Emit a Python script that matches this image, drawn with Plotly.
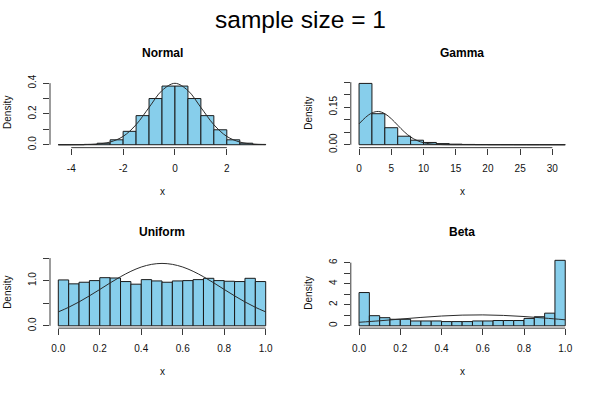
import plotly.graph_objects as go

W, H = 600, 395

# ---------------- data ----------------
normal_breaks = [-4.5, -4.0, -3.5, -3.0, -2.5, -2.0, -1.5, -1.0, -0.5, 0.0,
                 0.5, 1.0, 1.5, 2.0, 2.5, 3.0, 3.5]
normal_density = [0.0002, 0.0004, 0.0022, 0.0097, 0.032, 0.087, 0.189, 0.300,
                  0.381, 0.381, 0.300, 0.189, 0.097, 0.032, 0.010, 0.002]
normal_curve_x = [-4.5, -4.0, -3.5, -3.0, -2.5, -2.0, -1.5, -1.0, -0.5, 0.0,
                  0.5, 1.0, 1.5, 2.0, 2.5, 3.0, 3.5]
normal_curve_y = [0.0000, 0.0001, 0.0009, 0.0044, 0.0175, 0.054, 0.130, 0.242,
                  0.352, 0.399, 0.352, 0.242, 0.130, 0.054, 0.0175, 0.0044, 0.0009]

gamma_breaks = [0, 2, 4, 6, 8, 10, 12, 14, 16, 18, 20, 22, 24, 26, 28, 30, 32]
gamma_density = [0.245, 0.124, 0.068, 0.034, 0.018, 0.009, 0.0045, 0.0022,
                 0.0011, 0.0006, 0.0003, 0.0002, 0.0001, 0.00005, 0.00003, 0.00002]
gamma_curve_x = [0, 1, 2, 3, 4, 5, 6, 7, 8, 9, 10, 11, 12, 13, 14, 16, 20, 24, 28, 32]
gamma_curve_y = [0.0834, 0.109, 0.127, 0.133, 0.124, 0.104, 0.078, 0.052, 0.031,
                 0.0168, 0.0081, 0.0035, 0.0013, 0.0005, 0.0001, 0.0, 0.0, 0.0, 0.0, 0.0]

unif_breaks = [0.00, 0.05, 0.10, 0.15, 0.20, 0.25, 0.30, 0.35, 0.40, 0.45, 0.50,
               0.55, 0.60, 0.65, 0.70, 0.75, 0.80, 0.85, 0.90, 0.95, 1.00]
unif_density = [1.016, 0.929, 0.965, 1.001, 1.066, 1.059, 0.980, 0.922, 1.023, 0.994,
                0.965, 0.994, 1.001, 1.023, 1.052, 1.001, 0.987, 0.980, 1.052, 0.980]
unif_curve_x = [0.00, 0.05, 0.10, 0.15, 0.20, 0.25, 0.30, 0.35, 0.40, 0.45, 0.50,
                0.55, 0.60, 0.65, 0.70, 0.75, 0.80, 0.85, 0.90, 0.95, 1.00]
unif_curve_y = [0.308, 0.410, 0.529, 0.663, 0.805, 0.950, 1.087, 1.207, 1.302, 1.361, 1.382,
                1.361, 1.302, 1.207, 1.087, 0.950, 0.805, 0.663, 0.529, 0.410, 0.308]

beta_breaks = [0.00, 0.05, 0.10, 0.15, 0.20, 0.25, 0.30, 0.35, 0.40, 0.45, 0.50,
               0.55, 0.60, 0.65, 0.70, 0.75, 0.80, 0.85, 0.90, 0.95, 1.00]
beta_density = [3.16, 0.96, 0.77, 0.62, 0.62, 0.46, 0.46, 0.46, 0.40, 0.40,
                0.40, 0.46, 0.46, 0.50, 0.50, 0.50, 0.70, 0.86, 1.20, 6.22]
beta_curve_x = [0.0, 0.1, 0.2, 0.3, 0.4, 0.5, 0.6, 0.7, 0.8, 0.9, 1.0]
beta_curve_y = [0.333, 0.476, 0.637, 0.795, 0.929, 1.014, 1.035, 0.987, 0.880, 0.733, 0.571]

# tick labels
normal_xticks = [-4, -2, 0, 2]
normal_xlabels = ["-4", "-2", "0", "2"]
normal_yticks = [0.0, 0.1, 0.2, 0.3, 0.4]
normal_ylabels = ["0.0", "", "0.2", "", "0.4"]
gamma_xticks = [0, 5, 10, 15, 20, 25, 30]
gamma_xlabels = ["0", "5", "10", "15", "20", "25", "30"]
gamma_yticks = [0.00, 0.05, 0.10, 0.15, 0.20, 0.25]
gamma_ylabels = ["0.00", "", "", "0.15", "", ""]
unit_xticks = [0.0, 0.2, 0.4, 0.6, 0.8, 1.0]
unit_xlabels = ["0.0", "0.2", "0.4", "0.6", "0.8", "1.0"]
unif_yticks = [0.0, 0.5, 1.0, 1.5]
unif_ylabels = ["0.0", "", "1.0", ""]
beta_yticks = [0, 1, 2, 3, 4, 5, 6]
beta_ylabels = ["0", "", "2", "", "4", "", "6"]

titles = ["Normal", "Gamma", "Uniform", "Beta"]
main_title = "sample size = 1"

# ---------------- layout / style ----------------
FONT = "Liberation Sans, Arial, Helvetica, sans-serif"
BAR = "#87CEEB"
EDGE = "#1a1a1a"
AXC = "#3a3a3a"


def px_x(p):
    return p / W


def px_y(p):
    return 1 - p / H


# plot regions in pixels (left, right, top, bottom)
regions = [(50, 274, 76, 147), (350.8, 573.5, 76, 147),
           (50, 274, 259.5, 331.7), (350.8, 573.5, 259.5, 331.7)]
xranges = [[-4.82, 3.82], [-1.28, 33.28], [-0.04, 1.04], [-0.04, 1.04]]
yranges = [[-0.019, 0.4317], [-0.0117, 0.2656], [-0.052, 1.511], [-0.223, 6.48]]

panels = [
    (normal_breaks, normal_density, normal_curve_x, normal_curve_y,
     normal_xticks, normal_xlabels, normal_yticks, normal_ylabels),
    (gamma_breaks, gamma_density, gamma_curve_x, gamma_curve_y,
     gamma_xticks, gamma_xlabels, gamma_yticks, gamma_ylabels),
    (unif_breaks, unif_density, unif_curve_x, unif_curve_y,
     unit_xticks, unit_xlabels, unif_yticks, unif_ylabels),
    (beta_breaks, beta_density, beta_curve_x, beta_curve_y,
     unit_xticks, unit_xlabels, beta_yticks, beta_ylabels),
]

fig = go.Figure()
shapes = []
annotations = []
layout_axes = {}

for i, (brk, dens, cx, cy, xt, xl, yt, yl) in enumerate(panels):
    k = "" if i == 0 else str(i + 1)
    xa, ya = "x" + k, "y" + k
    mids = [(brk[j] + brk[j + 1]) / 2 for j in range(len(dens))]
    widths = [brk[j + 1] - brk[j] for j in range(len(dens))]
    fig.add_trace(go.Bar(x=mids, y=dens, width=widths, xaxis=xa, yaxis=ya,
                         marker=dict(color=BAR, line=dict(color=EDGE, width=1)),
                         showlegend=False, hoverinfo="skip"))
    fig.add_trace(go.Scatter(x=cx, y=cy, xaxis=xa, yaxis=ya, mode="lines",
                             line=dict(color="#2b2b2b", width=1, shape="spline", smoothing=1.0),
                             showlegend=False, hoverinfo="skip"))
    L, R, T, B = regions[i]
    layout_axes["xaxis" + k] = dict(
        domain=[px_x(L), px_x(R)], range=xranges[i], anchor=ya,
        tickvals=xt, ticktext=xl, ticks="outside", ticklen=6, tickwidth=1,
        tickcolor=AXC, showline=False, showgrid=False, zeroline=False,
        tickfont=dict(family=FONT, size=10, color="#111"),
        ticklabelstandoff=5, fixedrange=True)
    layout_axes["yaxis" + k] = dict(
        domain=[px_y(B), px_y(T)], range=yranges[i], anchor=xa,
        tickvals=yt, ticktext=yl, ticks="outside", ticklen=6, tickwidth=1,
        tickcolor=AXC, showline=False, showgrid=False, zeroline=False,
        tickangle=-90, tickfont=dict(family=FONT, size=10, color="#111"),
        ticklabelstandoff=3, fixedrange=True)
    # R-style axis lines spanning first..last tick
    shapes.append(dict(type="line", xref=xa, yref=ya + " domain",
                       x0=xt[0], x1=xt[-1], y0=0, y1=0,
                       line=dict(color=AXC, width=1)))
    shapes.append(dict(type="line", xref=xa + " domain", yref=ya,
                       x0=0, x1=0, y0=yt[0], y1=yt[-1],
                       line=dict(color=AXC, width=1)))
    cxp = (L + R) / 2
    annotations.append(dict(text="<b>" + titles[i] + "</b>", xref="paper", yref="paper",
                            x=px_x(cxp), y=px_y(T - 26), showarrow=False,
                            xanchor="center", yanchor="middle",
                            font=dict(family=FONT, size=12, color="#000")))
    annotations.append(dict(text="x", xref="paper", yref="paper",
                            x=px_x(cxp), y=px_y(B + 44.5), showarrow=False,
                            xanchor="center", yanchor="middle",
                            font=dict(family=FONT, size=10, color="#111")))
    annotations.append(dict(text="Density", xref="paper", yref="paper", textangle=-90,
                            x=px_x(L - 42), y=px_y((T + B) / 2), showarrow=False,
                            xanchor="center", yanchor="middle",
                            font=dict(family=FONT, size=10, color="#111")))

annotations.append(dict(text=main_title, xref="paper", yref="paper",
                        x=0.5, y=px_y(16), showarrow=False,
                        xanchor="center", yanchor="middle",
                        font=dict(family=FONT, size=24.5, color="#000")))

fig.update_layout(width=W, height=H, margin=dict(l=0, r=0, t=0, b=0),
                  paper_bgcolor="white", plot_bgcolor="white",
                  bargap=0, barmode="overlay", showlegend=False,
                  shapes=shapes, annotations=annotations, **layout_axes)

fig.write_html("out.html", config={"displayModeBar": False, "staticPlot": True},
               post_script="document.body.style.margin='0';document.body.style.overflow='hidden';")
